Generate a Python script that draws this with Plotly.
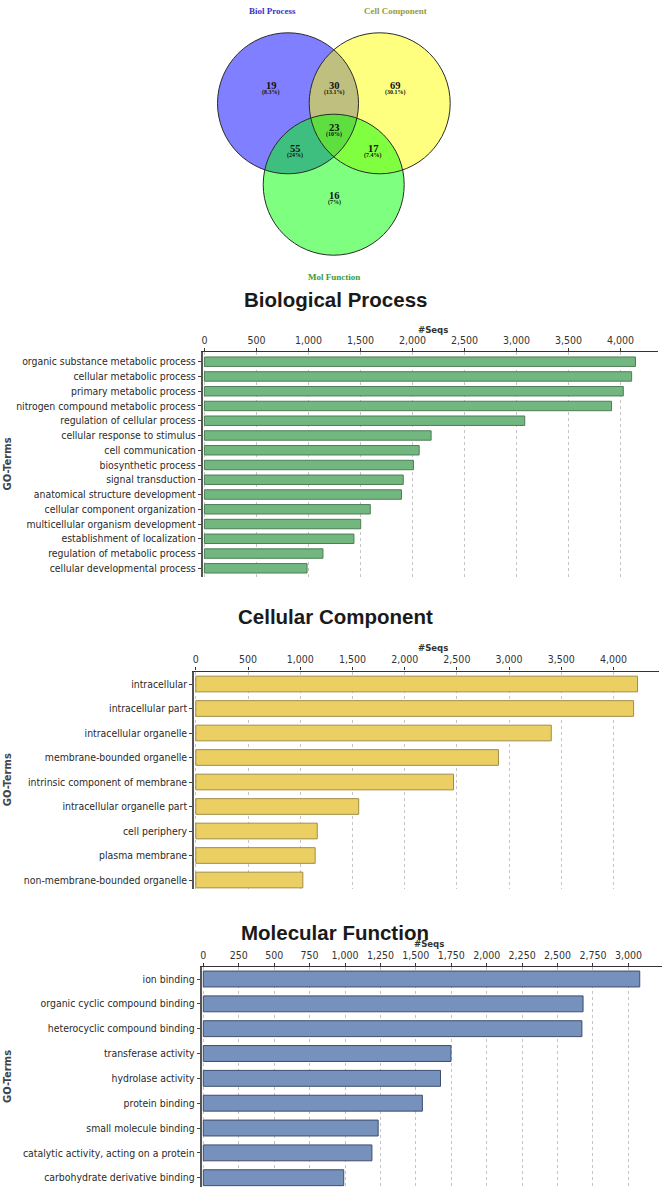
import plotly.graph_objects as go

# ---------------- data ----------------
venn_sets = ["Biol Process", "Cell Component", "Mol Function"]
venn_regions = ["BP", "BP&CC", "CC", "BP&CC&MF", "BP&MF", "CC&MF", "MF"]
venn_counts = [19, 30, 69, 23, 55, 17, 16]

bp_terms = [
    "organic substance metabolic process",
    "cellular metabolic process",
    "primary metabolic process",
    "nitrogen compound metabolic process",
    "regulation of cellular process",
    "cellular response to stimulus",
    "cell communication",
    "biosynthetic process",
    "signal transduction",
    "anatomical structure development",
    "cellular component organization",
    "multicellular organism development",
    "establishment of localization",
    "regulation of metabolic process",
    "cellular developmental process",
]
bp_seqs = [4145, 4108, 4028, 3915, 3080, 2180, 2065, 2010, 1912, 1895, 1595, 1503, 1438, 1140, 987]

cc_terms = [
    "intracellular",
    "intracellular part",
    "intracellular organelle",
    "membrane-bounded organelle",
    "intrinsic component of membrane",
    "intracellular organelle part",
    "cell periphery",
    "plasma membrane",
    "non-membrane-bounded organelle",
]
cc_seqs = [4230, 4192, 3404, 2898, 2468, 1560, 1163, 1143, 1025]

mf_terms = [
    "ion binding",
    "organic cyclic compound binding",
    "heterocyclic compound binding",
    "transferase activity",
    "hydrolase activity",
    "protein binding",
    "small molecule binding",
    "catalytic activity, acting on a protein",
    "carbohydrate derivative binding",
]
mf_seqs = [3080, 2680, 2672, 1748, 1674, 1546, 1234, 1190, 991]

bp_ticks = list(range(0, 4001, 500))
cc_ticks = list(range(0, 4001, 500))
mf_ticks = list(range(0, 3001, 250))

# ---------------- layout geometry (pixels) ----------------
W, H = 663, 1188


def px(x):
    return x / W


def py(y):
    return 1 - y / H


fig = go.Figure()

# Venn diagram
venn_centers = [(288.0, 103.3), (379.7, 103.3), (333.7, 184.7)]
venn_r = 70.5
venn_fills = ["rgba(0,0,255,0.5)", "rgba(255,255,0,0.5)", "rgba(0,255,0,0.5)"]
venn_label_pos = [(272, 11), (395, 11), (334, 277)]
venn_label_colors = ["#3535c8", "#9a9a3a", "#3a9a3a"]
region_pos = [(271, 85), (334, 85), (395, 85), (334, 127), (295, 148), (373, 148), (334, 195)]

shapes = []
for (cx, cy), fc in zip(venn_centers, venn_fills):
    shapes.append(dict(type="circle", xref="paper", yref="paper",
                       x0=px(cx - venn_r), x1=px(cx + venn_r),
                       y0=py(cy + venn_r), y1=py(cy - venn_r),
                       fillcolor=fc, line=dict(width=0)))
for (cx, cy) in venn_centers:
    shapes.append(dict(type="circle", xref="paper", yref="paper",
                       x0=px(cx - venn_r), x1=px(cx + venn_r),
                       y0=py(cy + venn_r), y1=py(cy - venn_r),
                       fillcolor="rgba(0,0,0,0)", line=dict(color="#2a2a2a", width=1)))

annotations = []
serif = "Liberation Serif, Times New Roman, serif"
for name, (lx, ly), col in zip(venn_sets, venn_label_pos, venn_label_colors):
    annotations.append(dict(text="<b>%s</b>" % name, x=px(lx), y=py(ly), xref="paper", yref="paper",
                            showarrow=False, font=dict(family=serif, size=9, color=col),
                            xanchor="center", yanchor="middle"))

total = sum(venn_counts)
for cnt, (rx, ry) in zip(venn_counts, region_pos):
    pct = round(100.0 * cnt / total, 1)
    pct_s = ("%.1f" % pct).rstrip("0").rstrip(".")
    annotations.append(dict(text="<b>%d</b>" % cnt, x=px(rx), y=py(ry), xref="paper", yref="paper",
                            showarrow=False, font=dict(family=serif, size=10.5, color="#111"),
                            xanchor="center", yanchor="middle"))
    annotations.append(dict(text="<b>(%s%%)</b>" % pct_s, x=px(rx), y=py(ry + 7.5), xref="paper", yref="paper",
                            showarrow=False, font=dict(family=serif, size=6, color="#111"),
                            xanchor="center", yanchor="middle"))

# Bar panels
narrow = "DejaVu Sans Condensed, Liberation Sans Narrow, sans-serif"
panels = [
    dict(name="Biological Process", terms=bp_terms, vals=bp_seqs, ticks=bp_ticks,
         fill="#71b77f", edge="#4e7d58",
         x0=204.4, x1=658.0, ppu=0.1040, top=352.0, bottom=577.0, c1=361.7, cn=568.3,
         title_y=299, seqs_x=433, seqs_y=329),
    dict(name="Cellular Component", terms=cc_terms, vals=cc_seqs, ticks=cc_ticks,
         fill="#ebcf62", edge="#a08d48",
         x0=195.8, x1=659.0, ppu=0.10443, top=671.5, bottom=889.0, c1=684.0, cn=880.0,
         title_y=616, seqs_x=433, seqs_y=647),
    dict(name="Molecular Function", terms=mf_terms, vals=mf_seqs, ticks=mf_ticks,
         fill="#7691bb", edge="#3e4d6e",
         x0=203.3, x1=662.0, ppu=0.1417, top=967.0, bottom=1187.0, c1=979.0, cn=1177.7,
         title_y=932, seqs_x=429, seqs_y=943),
]

layout_axes = {}
for i, p in enumerate(panels, start=1):
    xa = "x" if i == 1 else "x%d" % i
    ya = "y" if i == 1 else "y%d" % i
    n = len(p["terms"])
    step = (p["cn"] - p["c1"]) / (n - 1)
    off = 1.6 / p["ppu"]
    fig.add_trace(go.Bar(
        x=p["vals"], y=p["terms"], orientation="h", width=0.64,
        marker=dict(color=p["fill"], line=dict(color=p["edge"], width=1)),
        xaxis=xa, yaxis=ya, showlegend=False, hoverinfo="x+y"))
    layout_axes["xaxis" if i == 1 else "xaxis%d" % i] = dict(
        domain=[px(p["x0"] - 1.6), px(p["x1"])],
        range=[-off, (p["x1"] - p["x0"]) / p["ppu"]],
        anchor=ya, side="top", automargin=False,
        tickvals=p["ticks"], tickformat=",d",
        tickfont=dict(family=narrow, size=10.5, color="#333"),
        showgrid=True, gridcolor="#c4c4c4", griddash="dot", gridwidth=1,
        zeroline=False, showline=True, linecolor="#333", linewidth=1.2,
        ticks="outside", ticklen=3, tickcolor="#333", fixedrange=True)
    layout_axes["yaxis" if i == 1 else "yaxis%d" % i] = dict(
        domain=[py(p["bottom"]), py(p["top"])], automargin=False,
        type="category", categoryorder="array", categoryarray=p["terms"],
        range=[n - 1 + (p["bottom"] - p["cn"]) / step, -(p["c1"] - p["top"]) / step],
        anchor=xa, showgrid=False, zeroline=False,
        showline=True, linecolor="#555", linewidth=2,
        ticks="outside", ticklen=3, tickcolor="#444",
        tickfont=dict(family=narrow, size=10.4, color="#2a2a2a"), fixedrange=True)
    annotations.append(dict(text="<b>%s</b>" % p["name"], x=px(335), y=py(p["title_y"]),
                            xref="paper", yref="paper", showarrow=False,
                            font=dict(family="Liberation Sans, Arial, sans-serif", size=20.5, color="#1a1a1a"),
                            xanchor="center", yanchor="middle"))
    annotations.append(dict(text="<b>#Seqs</b>", x=px(p["seqs_x"]), y=py(p["seqs_y"]),
                            xref="paper", yref="paper", showarrow=False,
                            font=dict(family=narrow, size=9.5, color="#333"),
                            xanchor="center", yanchor="middle"))
    annotations.append(dict(text="<b>GO-Terms</b>", x=px(7), y=py((p["top"] + p["bottom"]) / 2),
                            xref="paper", yref="paper", showarrow=False, textangle=-90,
                            font=dict(family="DejaVu Sans, sans-serif", size=10, color="#444"),
                            xanchor="center", yanchor="middle"))

fig.update_layout(
    width=W, height=H, margin=dict(l=0, r=0, t=0, b=0, autoexpand=False),
    paper_bgcolor="white", plot_bgcolor="white",
    shapes=shapes, annotations=annotations, showlegend=False,
    bargap=0.36, **layout_axes)

fig.write_html("out.html", config={"displayModeBar": False},
               post_script="document.body.style.margin='0';document.body.style.overflow='hidden';")
